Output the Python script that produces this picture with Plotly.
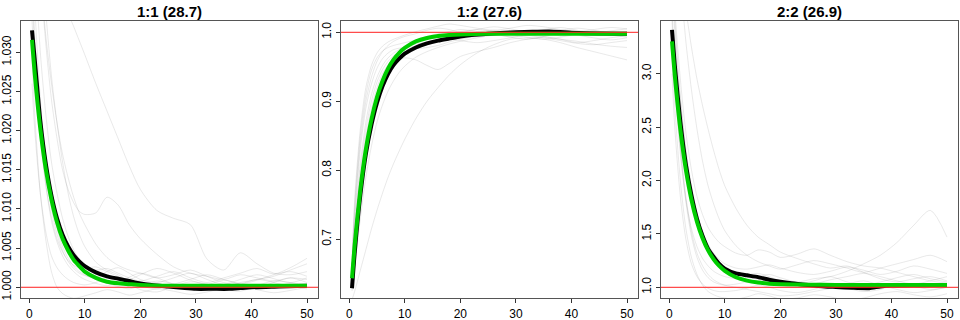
import plotly.graph_objects as go

# ---------------- data ----------------
titles = ["1:1 (28.7)", "1:2 (27.6)", "2:2 (26.9)"]

# mean curves (black)
mean_x = [0.5, 1, 2, 3, 4, 5, 6, 7, 8, 9, 10, 12, 14, 16, 18, 20, 22, 25, 28, 30, 33, 36, 38, 40, 45, 50]
mean_11 = [1.0328, 1.0290, 1.0212, 1.0157, 1.0117, 1.0088, 1.0067, 1.0052, 1.0041, 1.0033, 1.0027, 1.0019,
           1.0014, 1.0011, 1.0008, 1.0005, 1.0003, 1.0001, 0.9999, 0.9998, 0.9998, 0.9998, 0.9999, 1.0000, 1.0001, 1.0002]
mean_12 = [0.629, 0.682, 0.764, 0.824, 0.866, 0.898, 0.922, 0.940, 0.953, 0.962, 0.969, 0.978,
           0.984, 0.988, 0.991, 0.994, 0.996, 0.998, 0.9995, 1.000, 1.0008, 1.0012, 1.0005, 0.9995, 0.9982, 0.998]
mean_22 = [3.41, 3.08, 2.55, 2.15, 1.86, 1.64, 1.48, 1.36, 1.285, 1.22, 1.175, 1.13,
           1.112, 1.095, 1.07, 1.052, 1.038, 1.022, 1.008, 1.003, 0.995, 0.992, 1.008, 1.017, 1.020, 1.022]

# fitted curves (green)
fit_x = [0.5, 1, 2, 3, 4, 5, 6, 7, 8, 9, 10, 12, 14, 16, 18, 20, 25, 30, 35, 40, 45, 50]
fit_11 = [1.0316, 1.0272, 1.0202, 1.0150, 1.0112, 1.0083, 1.0062, 1.0047, 1.0035, 1.0027, 1.0020, 1.0012,
          1.0007, 1.0005, 1.0004, 1.0003, 1.0002, 1.0002, 1.0002, 1.0002, 1.0002, 1.0002]
fit_12 = [0.6435, 0.693, 0.7718, 0.8307, 0.8739, 0.9062, 0.9299, 0.9477, 0.9608, 0.9703, 0.9774, 0.9868,
          0.9918, 0.9946, 0.9962, 0.9970, 0.9978, 0.998, 0.998, 0.998, 0.998, 0.998]
fit_22 = [3.302, 2.985, 2.477, 2.099, 1.820, 1.613, 1.460, 1.346, 1.262, 1.200, 1.154, 1.094,
          1.062, 1.044, 1.034, 1.029, 1.024, 1.022, 1.022, 1.022, 1.022, 1.022]

# individual runs (grey)
run_x = [0.5, 1, 2, 3, 4, 5, 6, 7, 8, 9, 10, 12, 14, 16, 18, 20, 23, 26, 29, 32, 35, 38, 41, 44, 47, 50]
runs_11 = [
    [1.026, 1.020, 1.012, 1.007, 1.004, 1.0025, 1.0016, 1.0010, 1.0006, 1.0004, 1.0003, 1.0006, 1.0012, 1.0009, 1.0004, 0.9997, 0.9994, 1.0001, 1.0007, 1.0004, 0.9998, 0.9995, 1.0002, 1.0008, 1.0006, 1.0003],
    [1.055, 1.049, 1.040, 1.032, 1.026, 1.021, 1.017, 1.014, 1.0115, 1.0095, 1.008, 1.0055, 1.0038, 1.0028, 1.0022, 1.0018, 1.0012, 1.0016, 1.0022, 1.0014, 1.0006, 1.0004, 1.0009, 1.0016, 1.0020, 1.0014],
    [1.047, 1.046, 1.044, 1.042, 1.040, 1.0385, 1.037, 1.035, 1.0333, 1.0315, 1.0297, 1.026, 1.0225, 1.019, 1.0155, 1.0125, 1.0098, 1.0088, 1.0080, 1.0036, 1.0022, 1.0044, 1.0030, 1.0018, 1.0016, 1.0020],
    [1.060, 1.052, 1.040, 1.031, 1.024, 1.019, 1.015, 1.0125, 1.0108, 1.0097, 1.0093, 1.0095, 1.0115, 1.0105, 1.0080, 1.0062, 1.0042, 1.0026, 1.0018, 1.0014, 1.0010, 1.0016, 1.0012, 1.0008, 1.0012, 1.0010],
    [1.040, 1.032, 1.022, 1.015, 1.010, 1.0068, 1.0047, 1.0033, 1.0024, 1.0018, 1.0015, 1.0012, 1.0020, 1.0025, 1.0018, 1.0010, 1.0006, 1.0012, 1.0018, 1.0010, 1.0004, 1.0010, 1.0016, 1.0011, 1.0006, 1.0012],
    [1.030, 1.022, 1.012, 1.006, 1.002, 1.0000, 0.9992, 0.9988, 0.9986, 0.9987, 0.9989, 0.9993, 0.9997, 0.9994, 0.9990, 0.9993, 0.9998, 0.9995, 0.9991, 0.9994, 0.9999, 1.0002, 0.9997, 0.9993, 0.9996, 1.0000],
    [1.050, 1.042, 1.030, 1.022, 1.016, 1.012, 1.0088, 1.0065, 1.0048, 1.0036, 1.0028, 1.0022, 1.0024, 1.0018, 1.0012, 1.0008, 1.0014, 1.0020, 1.0012, 1.0006, 1.0012, 1.0018, 1.0024, 1.0017, 1.0025, 1.0037],
    [1.070, 1.060, 1.045, 1.035, 1.027, 1.021, 1.016, 1.012, 1.0090, 1.0068, 1.0052, 1.0032, 1.0022, 1.0016, 1.0008, 1.0002, 0.9998, 1.0004, 1.0010, 1.0016, 1.0010, 1.0004, 1.0000, 1.0006, 1.0012, 1.0006],
    [1.034, 1.028, 1.019, 1.013, 1.009, 1.0062, 1.0045, 1.0034, 1.0028, 1.0025, 1.0024, 1.0026, 1.0020, 1.0014, 1.0010, 1.0016, 1.0024, 1.0018, 1.0009, 1.0003, 0.9999, 1.0004, 1.0010, 1.0006, 1.0001, 0.9998],
    [1.045, 1.036, 1.024, 1.016, 1.011, 1.0075, 1.0052, 1.0037, 1.0027, 1.0020, 1.0016, 1.0010, 1.0005, 1.0001, 0.9998, 1.0002, 1.0008, 1.0004, 0.9998, 0.9996, 1.0001, 1.0006, 1.0010, 1.0014, 1.0022, 1.0030],
    [1.038, 1.030, 1.020, 1.013, 1.0085, 1.0058, 1.0040, 1.0028, 1.0020, 1.0014, 1.0010, 1.0005, 1.0002, 1.0006, 1.0013, 1.0018, 1.0012, 1.0004, 0.9999, 1.0003, 1.0009, 1.0004, 0.9998, 1.0000, 1.0005, 1.0002],
]
runs_12 = [
    [0.66, 0.74, 0.84, 0.90, 0.935, 0.958, 0.972, 0.981, 0.987, 0.991, 0.994, 0.998, 1.003, 1.006, 1.004, 1.000, 1.004, 1.008, 1.005, 1.001, 1.004, 1.007, 1.003, 0.999, 1.002, 1.005],
    [0.64, 0.70, 0.79, 0.85, 0.89, 0.92, 0.94, 0.953, 0.962, 0.968, 0.972, 0.976, 0.978, 0.981, 0.986, 0.990, 0.994, 0.997, 0.993, 0.990, 0.994, 0.998, 0.996, 0.992, 0.989, 0.992],
    [0.63, 0.69, 0.78, 0.84, 0.88, 0.91, 0.93, 0.945, 0.955, 0.960, 0.963, 0.960, 0.952, 0.946, 0.955, 0.965, 0.972, 0.978, 0.985, 0.990, 0.993, 0.990, 0.985, 0.988, 0.992, 0.995],
    [0.612, 0.625, 0.655, 0.685, 0.715, 0.742, 0.767, 0.790, 0.810, 0.828, 0.845, 0.875, 0.900, 0.920, 0.938, 0.953, 0.970, 0.982, 0.990, 0.992, 0.990, 0.985, 0.978, 0.972, 0.966, 0.960],
    [0.67, 0.76, 0.86, 0.92, 0.952, 0.970, 0.980, 0.986, 0.990, 0.993, 0.996, 1.001, 1.005, 1.009, 1.012, 1.010, 1.006, 1.003, 1.006, 1.010, 1.008, 1.004, 1.001, 1.004, 1.007, 1.005],
    [0.65, 0.72, 0.81, 0.87, 0.91, 0.935, 0.952, 0.963, 0.970, 0.975, 0.979, 0.983, 0.986, 0.990, 0.993, 0.996, 1.000, 1.003, 1.000, 0.996, 0.992, 0.988, 0.984, 0.982, 0.985, 0.988],
    [0.625, 0.66, 0.73, 0.79, 0.835, 0.87, 0.895, 0.915, 0.930, 0.942, 0.951, 0.964, 0.972, 0.978, 0.983, 0.987, 0.992, 0.996, 0.999, 1.002, 0.999, 0.995, 0.998, 1.002, 0.999, 0.996],
    [0.66, 0.75, 0.85, 0.91, 0.945, 0.963, 0.973, 0.978, 0.981, 0.983, 0.985, 0.989, 0.994, 0.998, 1.001, 1.004, 1.001, 0.997, 0.994, 0.996, 1.000, 1.003, 1.006, 1.003, 0.999, 1.001],
    [0.645, 0.71, 0.80, 0.86, 0.90, 0.928, 0.946, 0.958, 0.966, 0.972, 0.977, 0.984, 0.990, 0.995, 0.998, 1.001, 1.004, 1.001, 0.997, 0.993, 0.990, 0.993, 0.997, 1.000, 0.996, 0.993],
    [0.655, 0.73, 0.83, 0.89, 0.925, 0.948, 0.962, 0.970, 0.975, 0.977, 0.978, 0.980, 0.983, 0.987, 0.990, 0.988, 0.985, 0.988, 0.992, 0.996, 0.994, 0.990, 0.987, 0.983, 0.980, 0.978],
]
runs_22 = [
    [3.0, 2.5, 1.85, 1.45, 1.22, 1.10, 1.03, 0.99, 0.97, 0.96, 0.96, 0.97, 0.99, 1.02, 1.00, 0.97, 0.95, 0.98, 1.02, 0.99, 0.96, 0.98, 1.03, 1.01, 0.98, 1.00],
    [3.8, 3.4, 2.75, 2.25, 1.90, 1.65, 1.48, 1.36, 1.28, 1.22, 1.18, 1.14, 1.12, 1.13, 1.10, 1.06, 1.03, 1.06, 1.10, 1.05, 1.02, 1.05, 1.09, 1.12, 1.08, 1.05],
    [4.5, 4.3, 3.95, 3.60, 3.25, 2.95, 2.70, 2.48, 2.28, 2.10, 1.95, 1.74, 1.58, 1.47, 1.40, 1.33, 1.27, 1.22, 1.18, 1.20, 1.14, 1.08, 1.05, 1.08, 1.10, 1.06],
    [3.6, 3.1, 2.35, 1.85, 1.52, 1.32, 1.20, 1.12, 1.07, 1.04, 1.02, 1.00, 0.98, 0.96, 0.94, 0.92, 0.93, 0.96, 0.99, 1.03, 1.06, 1.02, 0.98, 0.95, 0.97, 1.00],
    [4.0, 3.6, 2.95, 2.45, 2.10, 1.85, 1.68, 1.56, 1.48, 1.42, 1.38, 1.32, 1.30, 1.35, 1.33, 1.28, 1.31, 1.36, 1.30, 1.24, 1.20, 1.18, 1.14, 1.10, 1.06, 1.04],
    [3.3, 2.9, 2.25, 1.82, 1.55, 1.38, 1.27, 1.20, 1.15, 1.12, 1.10, 1.08, 1.07, 1.10, 1.12, 1.09, 1.05, 1.08, 1.10, 1.15, 1.22, 1.30, 1.42, 1.58, 1.72, 1.47],
    [3.5, 3.0, 2.30, 1.80, 1.48, 1.28, 1.16, 1.09, 1.05, 1.03, 1.02, 1.03, 1.05, 1.07, 1.05, 1.02, 1.00, 1.03, 1.07, 1.10, 1.13, 1.10, 1.06, 1.03, 1.06, 1.10],
    [5.0, 4.6, 3.9, 3.3, 2.85, 2.48, 2.18, 1.95, 1.78, 1.64, 1.53, 1.39, 1.30, 1.24, 1.20, 1.17, 1.21, 1.25, 1.22, 1.18, 1.14, 1.18, 1.22, 1.26, 1.30, 1.24],
    [3.2, 2.7, 2.0, 1.55, 1.28, 1.12, 1.02, 0.96, 0.93, 0.91, 0.90, 0.89, 0.91, 0.94, 0.92, 0.89, 0.90, 0.93, 0.91, 0.88, 0.90, 0.94, 0.96, 0.93, 0.91, 0.94],
    [3.9, 3.5, 2.80, 2.30, 1.95, 1.70, 1.52, 1.40, 1.32, 1.26, 1.22, 1.18, 1.17, 1.19, 1.21, 1.18, 1.14, 1.12, 1.15, 1.19, 1.16, 1.12, 1.15, 1.20, 1.17, 1.13],
]

ref_level = 1.0
x_ticks = [0, 10, 20, 30, 40, 50]
y_ticks = [[1.000, 1.005, 1.010, 1.015, 1.020, 1.025, 1.030],
           [0.7, 0.8, 0.9, 1.0],
           [1.0, 1.5, 2.0, 2.5, 3.0]]
y_formats = [".3f", ".1f", ".1f"]
y_ranges = [[0.99863, 1.0340], [0.6149, 1.0164], [0.8998, 3.4934]]
x_range = [-1.48, 51.98]

panels = [(runs_11, mean_11, fit_11), (runs_12, mean_12, fit_12), (runs_22, mean_22, fit_22)]

# ---------------- figure ----------------
W, H = 960, 320
x_domains = [[21 / W, 318 / W], [341 / W, 638 / W], [661 / W, 958 / W]]
y_domain = [22 / H, 299 / H]

fig = go.Figure()
FONT = "Liberation Sans, Arial, Helvetica, sans-serif"

for i, (runs, mean, fit) in enumerate(panels):
    xa = "x" if i == 0 else f"x{i + 1}"
    ya = "y" if i == 0 else f"y{i + 1}"
    for r in runs:
        fig.add_trace(go.Scatter(x=run_x, y=r, xaxis=xa, yaxis=ya, mode="lines",
                                 line=dict(color="rgba(110,110,110,0.15)", width=1, shape="spline", smoothing=0.8),
                                 hoverinfo="skip", showlegend=False))
    fig.add_trace(go.Scatter(x=mean_x, y=mean, xaxis=xa, yaxis=ya, mode="lines",
                             line=dict(color="black", width=4, shape="spline", smoothing=0.6),
                             showlegend=False))
    fig.add_trace(go.Scatter(x=fit_x, y=fit, xaxis=xa, yaxis=ya, mode="lines",
                             line=dict(color="#00CD00", width=4, shape="spline", smoothing=0.6),
                             showlegend=False))
    fig.add_shape(type="line", xref=f"{xa} domain", yref=ya, x0=0, x1=1, y0=ref_level, y1=ref_level,
                  line=dict(color="#FF2020", width=1), layer="above")
    fig.add_annotation(text=f"<b>{titles[i]}</b>", xref="paper", yref="paper",
                       x=(x_domains[i][0] + x_domains[i][1]) / 2, y=(H - 11.5) / H,
                       xanchor="center", yanchor="middle", showarrow=False,
                       font=dict(family=FONT, size=15, color="black"))

    axis_common = dict(showgrid=False, zeroline=False, showline=True, mirror=True,
                       linecolor="#555555", linewidth=1.3, ticks="outside", ticklen=4,
                       tickcolor="#333333", tickwidth=1, automargin=False,
                       tickfont=dict(family=FONT, size=12, color="black"))
    fig.update_layout(**{
        ("xaxis" if i == 0 else f"xaxis{i + 1}"): dict(domain=x_domains[i], anchor=ya, range=x_range,
                                                       tickvals=x_ticks, **axis_common),
        ("yaxis" if i == 0 else f"yaxis{i + 1}"): dict(domain=y_domain, anchor=xa, range=y_ranges[i],
                                                       tickvals=y_ticks[i], tickformat=y_formats[i],
                                                       tickangle=-90, **axis_common),
    })

fig.update_layout(width=W, height=H, margin=dict(l=0, r=0, t=0, b=0, autoexpand=False),
                  paper_bgcolor="white", plot_bgcolor="white", showlegend=False)

fig.write_html("out.html")
